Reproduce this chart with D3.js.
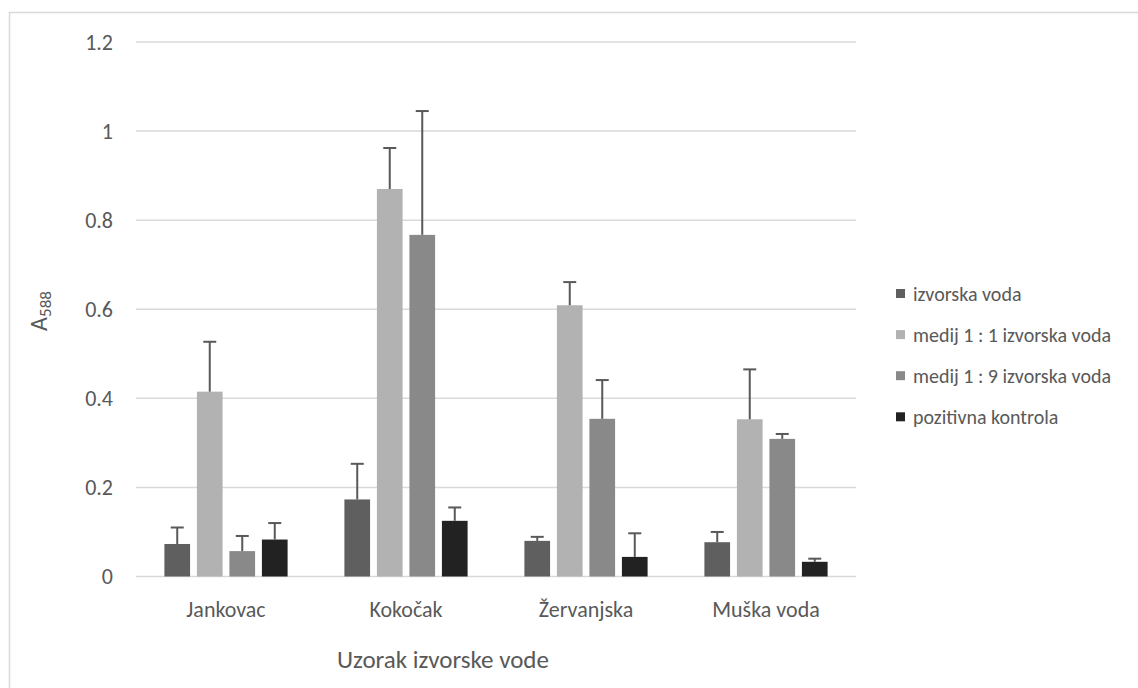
<!DOCTYPE html>
<html>
<head>
<meta charset="utf-8">
<script src="https://cdn.jsdelivr.net/npm/d3@7"></script>
<style>
  html, body { margin: 0; padding: 0; background: #ffffff; }
  svg { display: block; }
  text { font-family: Carlito, Calibri, Lato, "Open Sans", sans-serif; fill: #595959; }
</style>
</head>
<body>
<svg id="chart" width="1138" height="688"></svg>
<script>
const categories = ["Jankovac", "Kokočak", "Žervanjska", "Muška voda"];
const seriesNames = ["izvorska voda", "medij 1 : 1 izvorska voda", "medij 1 : 9 izvorska voda", "pozitivna kontrola"];
const seriesColors = ["#5f5f5f", "#b2b2b2", "#898989", "#222222"];
// values per series, in category order
const izvorska = [0.073, 0.173, 0.080, 0.077];
const medij11  = [0.415, 0.870, 0.609, 0.353];
const medij19  = [0.057, 0.767, 0.354, 0.309];
const pozitivna = [0.083, 0.125, 0.044, 0.033];
// error bar upper ends (value + SD)
const izvorskaErr  = [0.110, 0.253, 0.089, 0.100];
const medij11Err   = [0.527, 0.962, 0.661, 0.465];
const medij19Err   = [0.091, 1.045, 0.441, 0.320];
const pozitivnaErr = [0.120, 0.155, 0.097, 0.040];
const yTicks = [0, 0.2, 0.4, 0.6, 0.8, 1, 1.2];
const yTickLabels = ["0", "0.2", "0.4", "0.6", "0.8", "1", "1.2"];

const values = [izvorska, medij11, medij19, pozitivna];
const errs = [izvorskaErr, medij11Err, medij19Err, pozitivnaErr];

const svg = d3.select("#chart");

// outer chart border
svg.append("rect")
  .attr("x", 9.5).attr("y", 12.5)
  .attr("width", 1140).attr("height", 700)
  .attr("fill", "none").attr("stroke", "#d9d9d9").attr("stroke-width", 1.5);

const plotLeft = 136, plotRight = 856, plotTop = 42, plotBottom = 576.5;

const x0 = d3.scaleBand().domain(categories).range([plotLeft, plotRight]).padding(0);
const x1 = d3.scaleBand().domain(d3.range(seriesNames.length))
  .range([28.4, x0.bandwidth() - 28.4]).paddingInner(0.21).paddingOuter(0);
const y = d3.scaleLinear().domain([0, 1.2]).range([plotBottom, plotTop]);

// gridlines
svg.append("g").selectAll("line").data(yTicks).join("line")
  .attr("x1", plotLeft).attr("x2", plotRight)
  .attr("y1", d => y(d)).attr("y2", d => y(d))
  .attr("stroke", "#d9d9d9").attr("stroke-width", 1.5);

// y axis labels
const yAxis = d3.axisLeft(y).tickValues(yTicks)
  .tickFormat((d, i) => yTickLabels[i]).tickSize(0).tickPadding(0);
const gy = svg.append("g").attr("transform", `translate(113,0)`).call(yAxis);
gy.select(".domain").remove();
gy.selectAll("text").attr("font-size", 22).attr("fill", "#595959")
  .style("font-family", "Carlito, Calibri, Lato, sans-serif");

// bars
const groups = svg.append("g").selectAll("g").data(categories).join("g")
  .attr("transform", d => `translate(${x0(d)},0)`);

groups.each(function(cat, ci) {
  const g = d3.select(this);
  seriesNames.forEach((s, si) => {
    const v = values[si][ci];
    const bx = x1(si);
    g.append("rect")
      .attr("x", bx).attr("width", x1.bandwidth())
      .attr("y", y(v)).attr("height", y(0) - y(v))
      .attr("fill", seriesColors[si]);
    const cx = bx + x1.bandwidth() / 2;
    const e = errs[si][ci];
    g.append("line")
      .attr("x1", cx).attr("x2", cx).attr("y1", y(v)).attr("y2", y(e))
      .attr("stroke", "#595959").attr("stroke-width", 2);
    g.append("line")
      .attr("x1", cx - 6.5).attr("x2", cx + 6.5).attr("y1", y(e)).attr("y2", y(e))
      .attr("stroke", "#595959").attr("stroke-width", 2);
  });
});

// x axis category labels
const xAxis = d3.axisBottom(x0).tickSize(0).tickPadding(0);
const gx = svg.append("g").attr("transform", `translate(0,${plotBottom})`).call(xAxis);
gx.select(".domain").remove();
gx.selectAll("text").attr("font-size", 22).attr("dy", null).attr("y", 40.5)
  .attr("fill", "#595959").style("font-family", "Carlito, Calibri, Lato, sans-serif");

// x axis title
svg.append("text")
  .attr("x", 443).attr("y", 668).attr("text-anchor", "middle")
  .attr("font-size", 25).text("Uzorak izvorske vode");

// y axis title with subscript
const yt = svg.append("text")
  .attr("transform", "translate(47,311) rotate(-90)")
  .attr("text-anchor", "middle").attr("font-size", 24);
yt.append("tspan").text("A");
yt.append("tspan").attr("font-size", 17).attr("dy", 4).text("588");

// legend
const legend = svg.append("g").selectAll("g").data(seriesNames).join("g")
  .attr("transform", (d, i) => `translate(896,${293.5 + i * 41.1})`);
legend.append("rect")
  .attr("x", 0).attr("y", -4.5).attr("width", 9).attr("height", 9)
  .attr("fill", (d, i) => seriesColors[i]);
legend.append("text")
  .attr("x", 17).attr("y", 0).attr("dy", "0.35em")
  .attr("font-size", 20).text(d => d);
</script>
</body>
</html>
